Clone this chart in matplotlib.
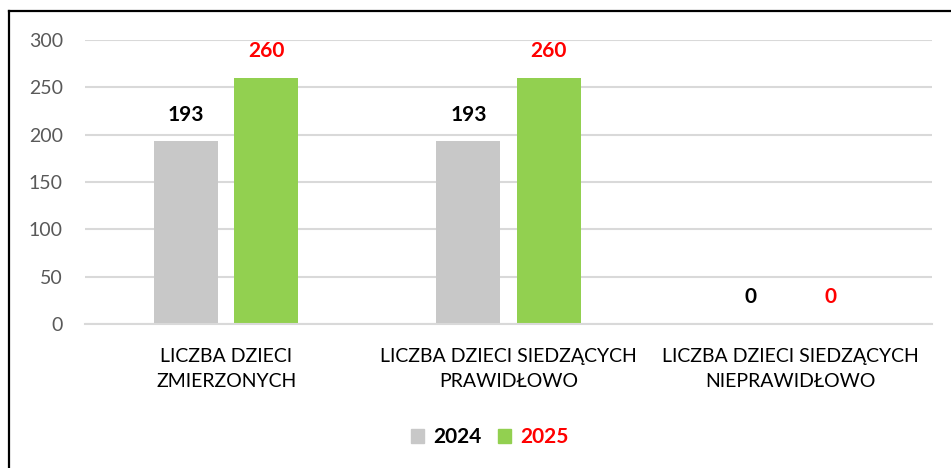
import matplotlib.pyplot as plt
import numpy as np
from matplotlib.lines import Line2D
from matplotlib.patches import Patch

CATEGORIES = ["LICZBA DZIECI\nZMIERZONYCH",
              "LICZBA DZIECI SIEDZĄCYCH\nPRAWIDŁOWO",
              "LICZBA DZIECI SIEDZĄCYCH\nNIEPRAWIDŁOWO"]
SERIES = ["2024", "2025"]
VALUES_2024 = [193, 193, 0]
VALUES_2025 = [260, 260, 0]
Y_TICKS = [0, 50, 100, 150, 200, 250, 300]

GRAY, GREEN, RED = "#C8C8C8", "#92D050", "#FF0000"
FONT = ["Lato", "DejaVu Sans"]


def main() -> None:
    plt.rcParams["font.family"] = FONT
    fig = plt.figure(figsize=(9.51, 4.68), dpi=100)
    ax = fig.add_axes([0.0894, 0.3077, 0.8906, 0.6068])

    x = np.arange(len(CATEGORIES))
    w = 0.227
    off = 0.142
    b1 = ax.bar(x - off, VALUES_2024, w, color=GRAY, zorder=2)
    b2 = ax.bar(x + off, VALUES_2025, w, color=GREEN, zorder=2)
    ax.bar_label(b1, padding=12, fontsize=15, fontweight="bold", color="black")
    ax.bar_label(b2, padding=12, fontsize=15, fontweight="bold", color=RED)

    ax.set_xlim(-0.5, len(CATEGORIES) - 0.5)
    ax.set_ylim(0, 300)
    ax.set_yticks(Y_TICKS)
    ax.set_xticks(x, CATEGORIES)
    ax.tick_params(axis="y", length=0, labelsize=14, labelcolor="#595959", pad=16)
    ax.tick_params(axis="x", length=0, labelsize=14, labelcolor="black", pad=17)
    for lab in ax.get_xticklabels():
        lab.set_linespacing(1.6)
    ax.grid(axis="y", color="#D9D9D9", linewidth=1.5, zorder=0)
    for s in ["top", "right", "left"]:
        ax.spines[s].set_visible(False)
    ax.spines["bottom"].set_color("#D9D9D9")
    ax.spines["bottom"].set_linewidth(1.5)

    handles = [Patch(color=GRAY), Patch(color=GREEN)]
    leg = fig.legend(handles, SERIES, loc="center", bbox_to_anchor=(0.515, 1 - 437 / 468),
                     ncol=2, frameon=False, handlelength=0.65, handleheight=0.65,
                     handletextpad=0.45, columnspacing=0.75,
                     prop={"size": 15, "weight": "bold"})
    leg.get_texts()[1].set_color(RED)

    # ramka (tylko lewa i górna krawędź widoczna na zrzucie)
    fig.add_artist(Line2D([9 / 951, 9 / 951], [0, 1 - 11 / 468], color="black", lw=1.6))
    fig.add_artist(Line2D([9 / 951, 1], [1 - 11 / 468, 1 - 11 / 468], color="black", lw=1.6))

    fig.savefig("out.png", dpi=100)
    plt.close(fig)


if __name__ == "__main__":
    main()
